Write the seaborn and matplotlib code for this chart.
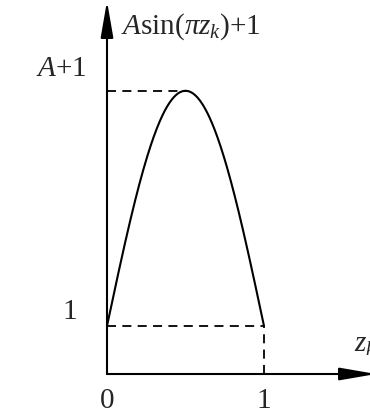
import numpy as np
import pandas as pd
import matplotlib
matplotlib.use("Agg")
import matplotlib.pyplot as plt
import seaborn as sns

sns.set_theme(style="white")
plt.rcParams["font.family"] = ["Liberation Serif", "DejaVu Serif"]
plt.rcParams["mathtext.fontset"] = "custom"
plt.rcParams["mathtext.rm"] = "Liberation Serif"
plt.rcParams["mathtext.it"] = "Liberation Serif:italic"

# Amplitude of the hump and the z range it spans
amplitude = 4.9
z_range = [0.0, 1.0]
x_tick_labels = ["0", "1"]
y_tick_labels = ["1", "$A$+1"]

z = np.linspace(z_range[0], z_range[1], 200)
df = pd.DataFrame({"z": z, "y": amplitude * np.sin(np.pi * z) + 1})

fig = plt.figure(figsize=(3.70, 4.19), dpi=100)
ax = fig.add_axes([0, 0, 1, 1])
px_per_x, px_per_y = 157.0, 48.0
ax.set_xlim(-107 / px_per_x, (370 - 107) / px_per_x)
ax.set_ylim(-(419 - 374) / px_per_y, 374 / px_per_y)
ax.axis("off")

sns.lineplot(data=df, x="z", y="y", ax=ax, color="black", linewidth=1.5)

# Axes with long, narrow arrowheads
top = 373 / px_per_y
right = (376 - 107) / px_per_x
head = dict(arrowstyle="-|>,head_length=1.85,head_width=0.32",
            color="black", lw=1.5, shrinkA=0, shrinkB=0)
ax.annotate("", xy=(0, top), xytext=(0, 0), arrowprops=head, annotation_clip=False)
ax.annotate("", xy=(right, 0), xytext=(0, 0), arrowprops=head, annotation_clip=False)

# Dashed guide lines
peak_z = 0.5
peak_y = amplitude + 1
dash = dict(color="black", lw=1.3, linestyle=(0, (5, 3.5)))
ax.plot([0, peak_z], [peak_y, peak_y], **dash)
ax.plot([0, z_range[1]], [1, 1], **dash)
ax.plot([z_range[1], z_range[1]], [0, 1], **dash)

fs = 21
ax.text(z_range[0], -27 / px_per_y, x_tick_labels[0], ha="center", va="center", fontsize=fs)
ax.text(z_range[1], -27 / px_per_y, x_tick_labels[1], ha="center", va="center", fontsize=fs)
ax.text(-37 / px_per_x, 1 + 14 / px_per_y, y_tick_labels[0], ha="center", va="center", fontsize=fs)
ax.text(-20 / px_per_x, peak_y + 22 / px_per_y, y_tick_labels[1], ha="right", va="center", fontsize=fs)
ax.text(14 / px_per_x, (374 - 34) / px_per_y, r"$A\mathrm{sin}(\pi z_k)$+1",
        ha="left", va="baseline", fontsize=fs)
ax.text((354 - 107) / px_per_x, 22 / px_per_y, r"$z_k$", ha="left", va="baseline", fontsize=fs)

fig.savefig("out.png", dpi=100)
